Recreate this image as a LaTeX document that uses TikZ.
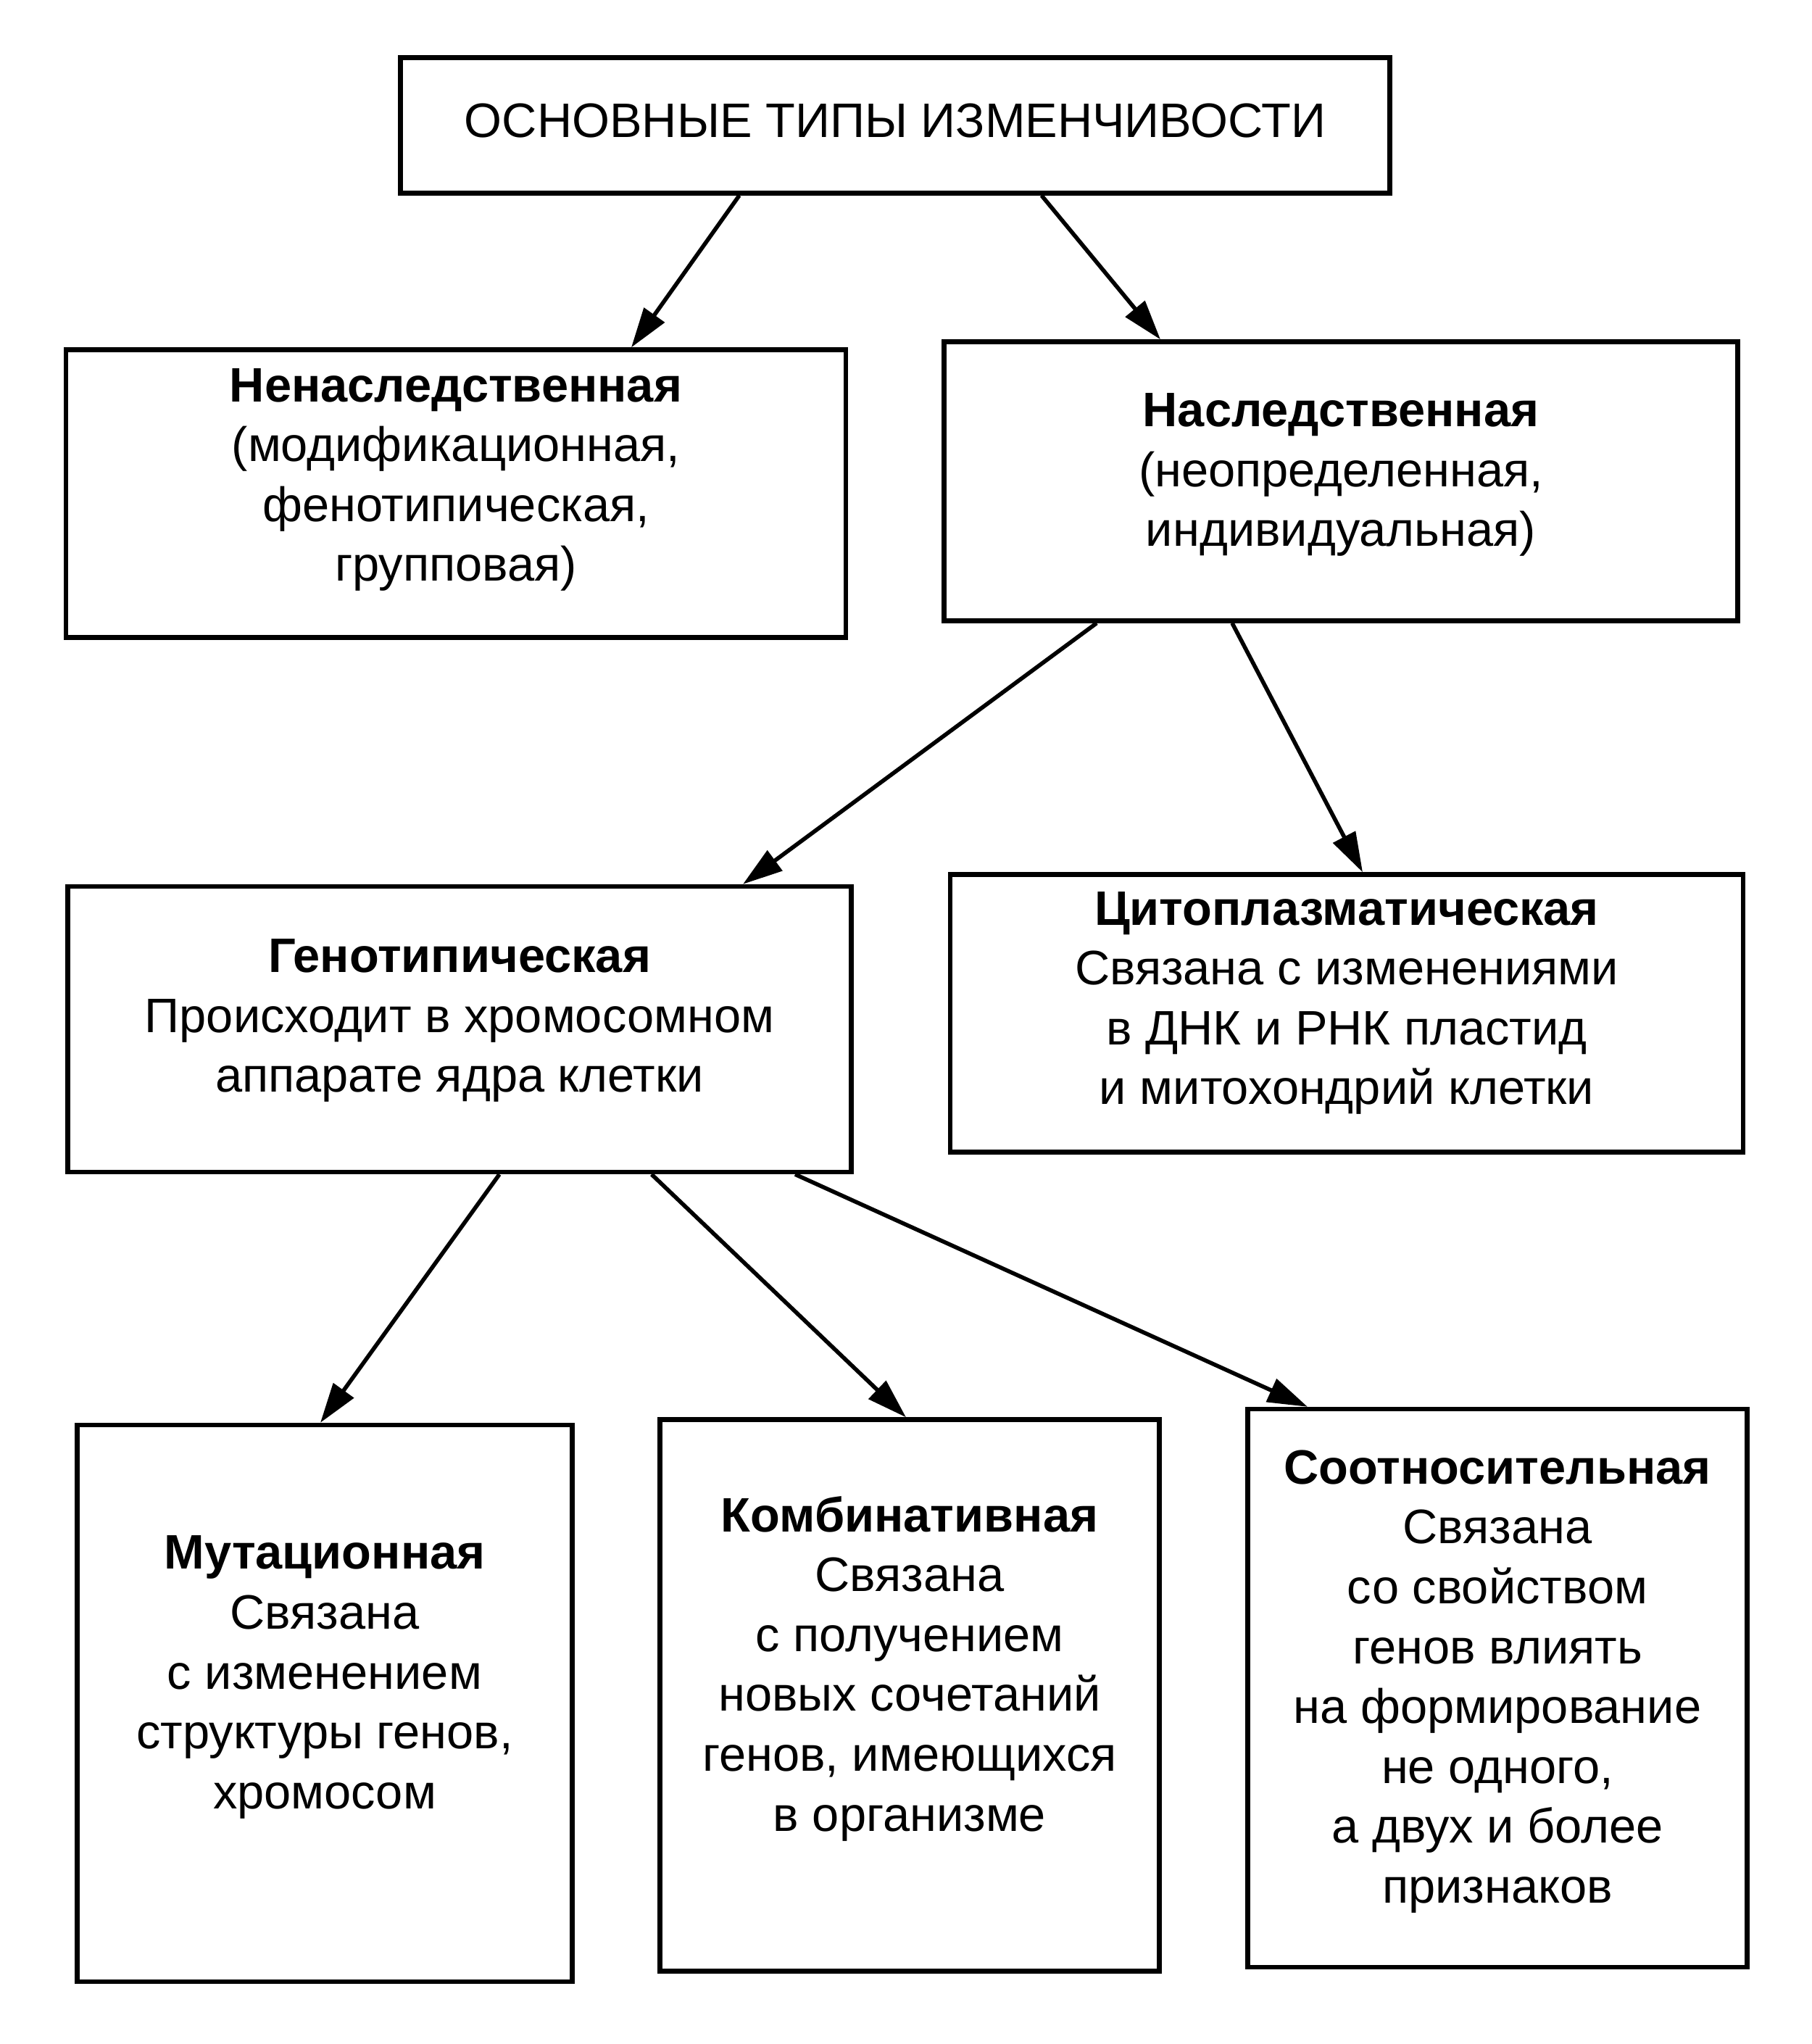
\documentclass[tikz,border=0pt]{standalone}
\usepackage{fontspec}
\setmainfont{Liberation Sans}
\usetikzlibrary{positioning}
\usetikzlibrary{arrows.meta}

\begin{document}
\begin{tikzpicture}[
  box/.style={draw, line width=1.8pt, inner sep=0pt},
  lbl/.style={align=center, inner sep=0pt, font=\fontsize{19}{23.5}\selectfont},
  arr/.style={-{Triangle[length=5.5mm,width=3.4mm]}, line width=1.6pt}
]
\useasboundingbox (0,0) rectangle (25,-28.2);

\node[box, minimum width=13.65cm, minimum height=1.87cm] (types) at (12.35,-1.73) {};
\node[lbl] (typeslbl) at ([yshift=0.06cm]types.center) {ОСНОВНЫЕ ТИПЫ ИЗМЕНЧИВОСТИ};

\node[box, minimum width=10.76cm, minimum height=3.97cm] (nonher) at (6.29,-6.81) {};
\node[lbl] (nonherlbl) at ([yshift=0.19cm]nonher.center)
  {\textbf{Ненаследственная}\\(модификационная,\\фенотипическая,\\групповая)};

\node[box, minimum width=10.95cm, minimum height=3.85cm] (her) at (18.50,-6.64) {};
\node[lbl] (herlbl) at ([yshift=0.09cm]her.center)
  {\textbf{Наследственная}\\(неопределенная,\\индивидуальная)};

\node[box, minimum width=10.81cm, minimum height=3.94cm] (geno) at (6.34,-14.20) {};
\node[lbl] (genolbl) at ([yshift=0.12cm]geno.center)
  {\textbf{Генотипическая}\\Происходит в хромосомном\\аппарате ядра клетки};

\node[box, minimum width=10.94cm, minimum height=3.83cm] (cyto) at (18.58,-13.98) {};
\node[lbl] (cytolbl) at ([yshift=0.14cm]cyto.center)
  {\textbf{Цитоплазматическая}\\Связана с изменениями\\в ДНК и РНК пластид\\и митохондрий клетки};

\node[box, minimum width=6.83cm, minimum height=7.68cm] (mut) at (4.48,-23.50) {};
\node[lbl] (mutlbl) at ([yshift=0.36cm]mut.center)
  {\textbf{Мутационная}\\Связана\\с изменением\\структуры генов,\\хромосом};

\node[box, minimum width=6.89cm, minimum height=7.61cm] (comb) at (12.55,-23.39) {};
\node[lbl] (comblbl) at ([yshift=0.37cm]comb.center)
  {\textbf{Комбинативная}\\Связана\\с получением\\новых сочетаний\\генов, имеющихся\\в организме};

\node[box, minimum width=6.89cm, minimum height=7.70cm] (corr) at (20.66,-23.29) {};
\node[lbl] (corrlbl) at ([yshift=0.09cm]corr.center)
  {\textbf{Соотносительная}\\Связана\\со свойством\\генов влиять\\на формирование\\не одного,\\а двух и более\\признаков};

\draw ([xshift=-2.15cm]types.south) edge[arr] ([xshift=2.42cm]nonher.north)
      ([xshift=2.02cm]types.south) edge[arr] ([xshift=-2.49cm]her.north)
      ([xshift=-3.37cm]her.south) edge[arr] ([xshift=3.91cm]geno.north)
      ([xshift=-1.50cm]her.south) edge[arr] ([xshift=0.22cm]cyto.north)
      ([xshift=0.55cm]geno.south) edge[arr] ([xshift=-0.06cm]mut.north)
      ([xshift=2.65cm]geno.south) edge[arr] ([xshift=-0.05cm]comb.north)
      ([xshift=4.63cm]geno.south) edge[arr] ([xshift=-2.62cm]corr.north);
\end{tikzpicture}
\end{document}
